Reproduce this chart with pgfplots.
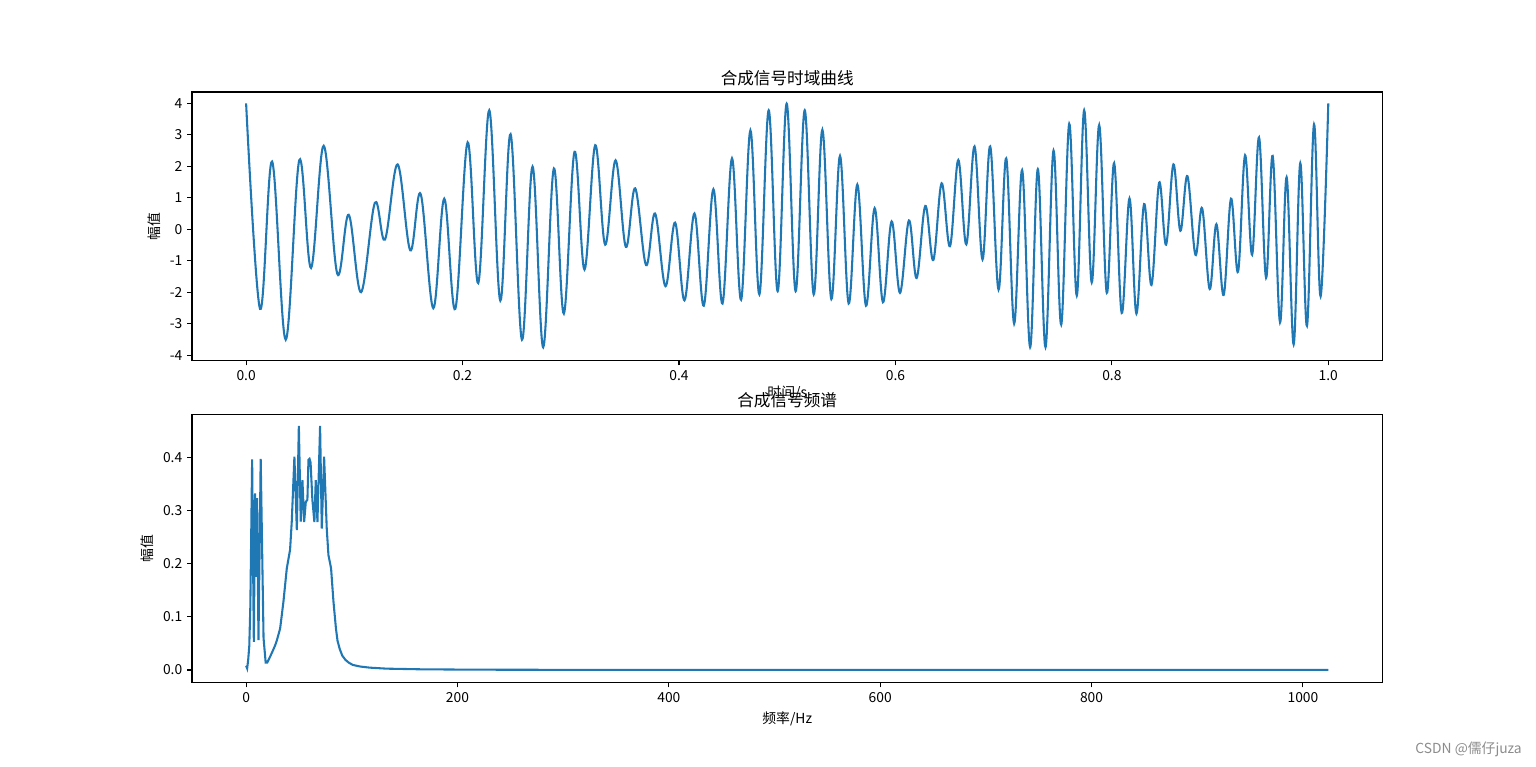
\documentclass[border=0pt]{standalone}
\usepackage{fontspec}
\setmainfont{Noto Sans CJK SC}
\usepackage{pgfplots}
\pgfplotsset{compat=1.18}
\definecolor{mplblue}{HTML}{1F77B4}

\pgfplotsset{
  mpl/.style={
    scale only axis, width=11.904in, height=2.685in,
    axis line style={line width=0.8pt},
    tick align=outside, tick pos=left,
    major tick length=3.5pt,
    every tick/.style={black, line width=0.8pt},
    ticklabel style={font=\fontsize{10}{12}\selectfont},
    label style={font=\fontsize{10}{12}\selectfont},
    title style={font=\fontsize{12}{14}\selectfont, yshift=-5pt},
    /pgf/number format/assume math mode=true,
    /pgf/number format/1000 sep={},
    cycle list={{mplblue, no markers}},
    every axis plot/.append style={line width=1.5pt},
  }
}

\begin{document}
\begin{tikzpicture}
\path[use as bounding box] (0,0) rectangle (15.36in,7.67in);

% time signal
\begin{axis}[mpl,
  at={(1.92in,4.065in)}, anchor=south west,
  xmin=-0.05, xmax=1.05, ymin=-4.17, ymax=4.36,
  xtick={0,0.2,0.4,0.6,0.8,1.0},
  ytick={-4,-3,-2,-1,0,1,2,3,4},
  xticklabel style={/pgf/number format/.cd, fixed, fixed zerofill, precision=1},
  title={合成信号时域曲线},
  xlabel={时间/s}, ylabel={幅值},
  xlabel style={yshift=3pt},
]
\addplot+[smooth, tension=0.6] coordinates {
(0,4.0) (0.0129,-2.53) (0.0240,2.15) (0.0366,-3.51) (0.0492,2.20)
(0.0600,-1.23) (0.0717,2.65) (0.0843,-1.42) (0.0948,0.46) (0.1062,-2.00)
(0.1190,0.84) (0.1283,-0.33) (0.1400,2.06) (0.1517,-0.67) (0.1613,1.12)
(0.1730,-2.51) (0.1831,0.97) (0.1933,-2.53) (0.2047,2.76) (0.2145,-1.71)
(0.2247,3.78) (0.2349,-2.27) (0.2444,3.02) (0.2549,-3.51) (0.2647,1.99)
(0.2745,-3.75) (0.2844,1.93) (0.2936,-2.68) (0.3035,2.46) (0.3127,-1.28)
(0.3226,2.67) (0.3318,-0.49) (0.3414,2.19) (0.3509,-0.56) (0.3595,1.30)
(0.3696,-1.14) (0.3779,0.50) (0.3875,-1.81) (0.3964,0.21) (0.4051,-2.26)
(0.4143,0.50) (0.4229,-2.43) (0.4318,1.27) (0.4402,-2.36) (0.4490,2.25)
(0.4574,-2.24) (0.4660,3.14) (0.4743,-2.07) (0.4829,3.78) (0.4912,-1.97)
(0.4995,3.99) (0.5078,-1.97) (0.5162,3.78) (0.5245,-2.07) (0.5325,3.16)
(0.5408,-2.22) (0.5488,2.33) (0.5568,-2.36) (0.5648,1.42) (0.5728,-2.43)
(0.5808,0.67) (0.5885,-2.32) (0.5965,0.25) (0.6042,-2.02) (0.6125,0.28)
(0.6196,-1.55) (0.6276,0.74) (0.6350,-0.98) (0.6427,1.46) (0.6504,-0.54)
(0.6581,2.20) (0.6655,-0.48) (0.6731,2.63) (0.6805,-0.96) (0.6876,2.63)
(0.6953,-1.92) (0.7024,2.25) (0.7097,-3.00) (0.7171,1.88) (0.7245,-3.75)
(0.7316,1.91) (0.7387,-3.75) (0.7461,2.50) (0.7532,-3.03) (0.7606,3.35)
(0.7676,-2.11) (0.7744,3.78) (0.7814,-1.69) (0.7883,3.31) (0.7953,-2.02)
(0.8021,2.10) (0.8091,-2.66) (0.8163,0.98) (0.8227,-2.68) (0.8298,0.80)
(0.8366,-1.77) (0.8437,1.48) (0.8501,-0.49) (0.8569,2.06) (0.8633,-0.05)
(0.8698,1.69) (0.8772,-0.81) (0.8834,0.67) (0.8904,-1.90) (0.8966,0.16)
(0.9033,-2.09) (0.9101,0.97) (0.9166,-1.35) (0.9231,2.35) (0.9296,-0.81)
(0.9360,2.92) (0.9425,-1.54) (0.9486,2.33) (0.9554,-2.96) (0.9615,1.65)
(0.9680,-3.66) (0.9741,2.10) (0.9803,-3.07) (0.9868,3.33) (0.9929,-2.13)
(1.0,4.0)
};
\end{axis}

% spectrum
\begin{axis}[mpl,
  at={(1.92in,0.844in)}, anchor=south west,
  xmin=-51.2, xmax=1075.2, ymin=-0.0237, ymax=0.481,
  xtick={0,200,400,600,800,1000},
  ytick={0,0.1,0.2,0.3,0.4},
  yticklabel style={/pgf/number format/.cd, fixed, fixed zerofill, precision=1},
  title={合成信号频谱},
  xlabel={频率/Hz}, ylabel={幅值},
]
\addplot coordinates {
(0,0.008) (1,0.003) (2,0.02) (3,0.045) (4,0.12) (5.7,0.396) (7.3,0.053)
(8.5,0.332) (9.5,0.175) (10.4,0.323) (11.7,0.056) (13.8,0.397) (16.5,0.06)
(18.5,0.014) (20,0.014) (22.7,0.025) (25,0.035) (27.4,0.046) (29,0.055)
(32.2,0.078) (35.3,0.128) (38.5,0.191) (41.6,0.226) (43.2,0.279) (45.7,0.401)
(48,0.263) (49.9,0.459) (51.7,0.279) (53.3,0.357) (54.9,0.278) (56.5,0.316)
(58,0.32) (59,0.395) (60,0.397) (61,0.39) (62.7,0.32) (64.6,0.278)
(65.9,0.357) (67.5,0.278) (70,0.459) (71.6,0.266) (73.8,0.401) (76.3,0.266)
(77.9,0.216) (80.4,0.191) (82.6,0.13) (85,0.078) (86.5,0.055) (88.5,0.04)
(91,0.027) (94,0.019) (97,0.014) (101,0.0095) (108,0.0065) (117,0.0044)
(133,0.0025) (165,0.0013) (215,0.0006) (300,0.0003) (500,0.0002) (1024,0.0001)
};
\end{axis}

\node[anchor=east, text=black!45, font=\fontsize{10}{12}\selectfont, inner sep=0pt]
  at (15.22in,0.18in) {CSDN @儒仔juza};
\end{tikzpicture}
\end{document}
